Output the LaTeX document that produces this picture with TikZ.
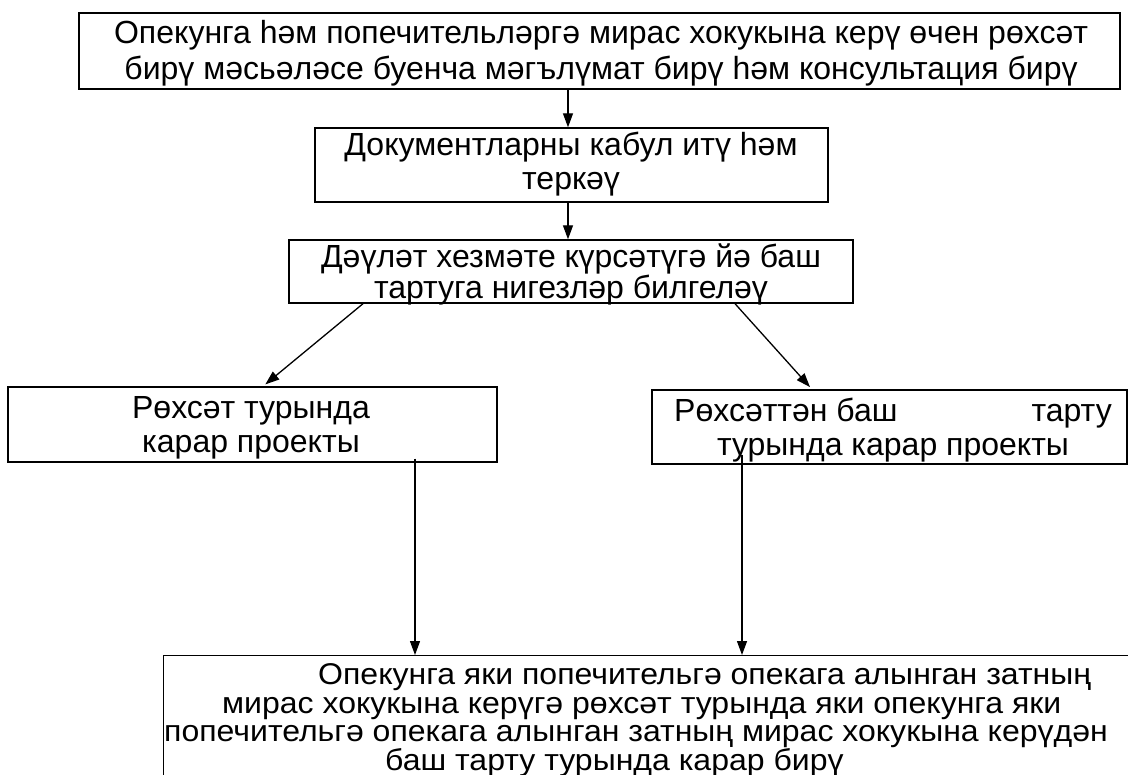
\documentclass[tikz,border=0pt]{standalone}
\usepackage{fontspec}
\setmainfont{Liberation Sans}
\newfontfamily\widefont{Liberation Sans}[FakeStretch=1.067]
\usetikzlibrary{arrows.meta,calc}
\begin{document}
\begin{tikzpicture}[x=1pt,y=-1pt,
  frame/.style={draw,line width=1.4pt,inner sep=0pt},
  txt/.style={inner sep=0pt,align=center,font=\fontsize{32}{34}\selectfont},
  arr/.style={line width=1.3pt,-{Triangle[length=14pt,width=10pt]}}]
\useasboundingbox (0,0) rectangle (1128,775);
\fill[white] (0,0) rectangle (1128,775);
% frames
\node[frame,minimum width=1041pt,minimum height=76pt] (b1) at (599.5,51) {};
\node[frame,minimum width=513pt,minimum height=74pt] (b2) at (571.5,165) {};
\node[frame,minimum width=564pt,minimum height=63pt] (b3) at (571,271.5) {};
\node[frame,minimum width=489pt,minimum height=75pt] (b4) at (252.5,424.5) {};
\node[frame,minimum width=475pt,minimum height=74pt] (b5) at (889.5,427) {};
\node[frame,minimum width=975pt,minimum height=140pt,anchor=north west] (b6) at (163,655) {};
% texts
\node[txt,font=\fontsize{32}{36}\selectfont] (t1) at (601,53)
  {Опекунга һәм попечительләргә мирас хокукына керү өчен рөхсәт\\бирү мәсьәләсе буенча мәгълүмат бирү һәм консультация бирү};
\node[txt] (t2) at (571,164) {Документларны кабул итү һәм\\теркәү};
\node[txt,font=\fontsize{32}{31}\selectfont] (t3) at (571,274) {Дәүләт хезмәте күрсәтүгә йә баш\\тартуга нигезләр билгеләү};
\node[txt] (t4) at (251,428) {Рөхсәт турында\\карар проекты};
\node[txt] (t5) at (893,430) {Рөхсәттән баш\hspace{134pt}тарту\\турында карар проекты};
\node[txt,align=left,anchor=base west,font=\widefont\fontsize{30}{28.5}\selectfont] (t6) at (163,770)
  {\hspace*{155pt}Опекунга яки попечительгә опекага алынган затның\\
   \hspace*{59pt}мирас хокукына керүгә рөхсәт турында яки опекунга яки\\
   \hspace*{1pt}попечительгә опекага алынган затның мирас хокукына керүдән\\
   \hspace*{222pt}баш тарту турында карар бирү};
% connectors
\coordinate (xa) at (568,0);
\coordinate (xl1) at (363,0);
\coordinate (xl2) at (263,0);
\coordinate (xr1) at (735,0);
\coordinate (xr2) at (812,0);
\coordinate (xd1) at (415,0);
\coordinate (xd2) at (742,0);
\draw[arr] (b1.south -| xa) -- (b2.north -| xa);
\draw[arr] (b2.south -| xa) -- (b3.north -| xa);
\draw[arr,shorten >=3pt] (b3.south -| xl1) -- (b4.north -| xl2);
\draw[arr,shorten >=3pt] (b3.south -| xr1) -- (b5.north -| xr2);
\draw[arr] ($(b4.south -| xd1)+(0,-4)$) -- (b6.north -| xd1);
\draw[arr] ($(b5.south -| xd2)+(0,-10)$) -- (b6.north -| xd2);
\end{tikzpicture}
\end{document}
